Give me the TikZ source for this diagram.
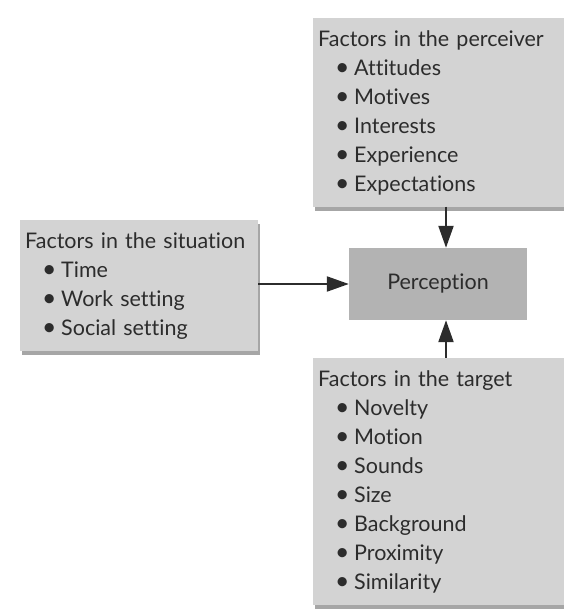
\documentclass[tikz,border=0pt]{standalone}
\usepackage{fontspec}
\setmainfont{Lato}[Ligatures={NoCommon}]
\usetikzlibrary{arrows.meta}
\usetikzlibrary{shadows}
\definecolor{boxgray}{HTML}{D3D3D3}
\definecolor{percgray}{HTML}{B3B3B3}
\definecolor{inkgray}{HTML}{2C2C2C}
\tikzset{>={Triangle[length=22pt,width=15pt]}}
\tikzset{
    factorbox/.style={rectangle, fill=boxgray, text=inkgray, align=left, anchor=north west,
        inner xsep=5pt, inner ysep=12pt, font=\fontsize{21.5}{29}\selectfont,
        drop shadow={shadow xshift=2pt, shadow yshift=-4pt, fill=black, opacity=0.35}},
    percbox/.style={rectangle, fill=percgray, text=inkgray, minimum width=178pt,
        minimum height=72pt, inner sep=0pt, font=\fontsize{21.5}{29}\selectfont},
    feed/.style={->, line width=2.2pt, draw=inkgray, fill=inkgray},
}
\newcommand{\itm}[1]{\hspace*{17pt}\makebox[19pt][l]{\scalebox{1.15}{\textbullet}}#1}

\begin{document}
\begin{tikzpicture}[x=1pt,y=1pt] % perception factors
	\useasboundingbox (0,0) rectangle (563,610);
	\node[factorbox, text width=250pt] (perceiver) at (313,592) {Factors in the perceiver\\
		\itm{Attitudes}\\ \itm{Motives}\\ \itm{Interests}\\ \itm{Experience}\\ \itm{Expectations}};
	\node[factorbox, text width=228pt] (situation) at (20,390) {Factors in the situation\\
		\itm{Time}\\ \itm{Work setting}\\ \itm{Social setting}};
	\node[factorbox, text width=250pt] (target) at (313,252) {Factors in the target\\
		\itm{Novelty}\\ \itm{Motion}\\ \itm{Sounds}\\ \itm{Size}\\ \itm{Background}\\ \itm{Proximity}\\ \itm{Similarity}};
	\node[percbox] (perception) at (438,326) {Perception};
	\coordinate (arrx) at (446,0);
	\draw[feed] (perceiver.south -| arrx) -- (perception.north -| arrx);
	\draw[feed] (target.north -| arrx) -- (perception.south -| arrx);
	\draw[feed] (situation.east |- perception) -- (perception.west);
\end{tikzpicture}
\end{document}
